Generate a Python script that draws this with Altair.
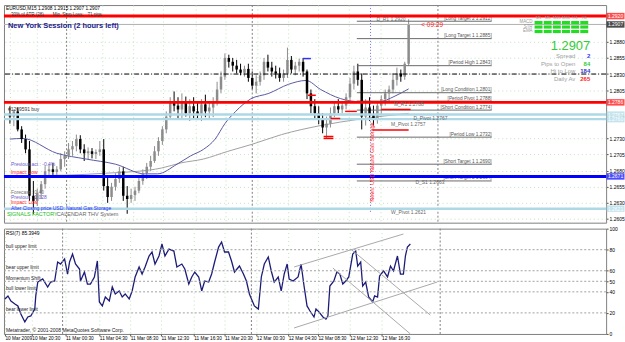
import altair as alt
import pandas as pd

FONT = "Liberation Sans"

# ---------------- data ----------------
# price bars, every second M15 bar (bar index 0 = first bar on the left)
bar_index = list(range(0, 205, 2))
bar_open = [1.2769, 1.2764, 1.2772, 1.2744, 1.2729, 1.2713, 1.2641, 1.2633, 1.2645, 1.2659,
            1.2679, 1.2682, 1.2678, 1.2682, 1.2698, 1.2703, 1.2713, 1.2718, 1.2729, 1.2713,
            1.2707, 1.2710, 1.2706, 1.2709, 1.2713, 1.2656, 1.2639, 1.2655, 1.2667, 1.2679,
            1.2641, 1.2636, 1.2642, 1.2649, 1.2664, 1.2676, 1.2686, 1.2695, 1.2710, 1.2726,
            1.2744, 1.2764, 1.2787, 1.2781, 1.2775, 1.2787, 1.2769, 1.2780, 1.2772, 1.2766,
            1.2783, 1.2772, 1.2778, 1.2787, 1.2806, 1.2826, 1.2855, 1.2849, 1.2843, 1.2837,
            1.2832, 1.2838, 1.2824, 1.2812, 1.2818, 1.2828, 1.2849, 1.2840, 1.2834, 1.2831,
            1.2824, 1.2831, 1.2852, 1.2837, 1.2843, 1.2849, 1.2834, 1.2800, 1.2780, 1.2769,
            1.2760, 1.2747, 1.2753, 1.2769, 1.2780, 1.2775, 1.2781, 1.2794, 1.2815, 1.2834,
            1.2821, 1.2764, 1.2778, 1.2766, 1.2760, 1.2781, 1.2791, 1.2800, 1.2806, 1.2821,
            1.2831, 1.2826, 1.2846]
bar_high = [1.2780, 1.2775, 1.2778, 1.2749, 1.2736, 1.2726, 1.2664, 1.2652, 1.2664, 1.2687,
            1.2690, 1.2692, 1.2687, 1.2707, 1.2710, 1.2723, 1.2726, 1.2736, 1.2735, 1.2721,
            1.2716, 1.2715, 1.2713, 1.2726, 1.2729, 1.2672, 1.2661, 1.2676, 1.2686, 1.2686,
            1.2656, 1.2652, 1.2655, 1.2670, 1.2682, 1.2692, 1.2703, 1.2718, 1.2732, 1.2749,
            1.2772, 1.2794, 1.2803, 1.2794, 1.2800, 1.2795, 1.2791, 1.2794, 1.2787, 1.2791,
            1.2798, 1.2787, 1.2794, 1.2818, 1.2834, 1.2862, 1.2860, 1.2855, 1.2852, 1.2846,
            1.2843, 1.2846, 1.2834, 1.2828, 1.2834, 1.2855, 1.2860, 1.2849, 1.2843, 1.2840,
            1.2837, 1.2871, 1.2858, 1.2849, 1.2854, 1.2855, 1.2837, 1.2806, 1.2791, 1.2780,
            1.2769, 1.2764, 1.2778, 1.2787, 1.2791, 1.2787, 1.2800, 1.2824, 1.2843, 1.2846,
            1.2831, 1.2791, 1.2794, 1.2781, 1.2787, 1.2797, 1.2806, 1.2812, 1.2831, 1.2840,
            1.2837, 1.2849, 1.2915]
bar_low = [1.2753, 1.2749, 1.2741, 1.2723, 1.2707, 1.2633, 1.2613, 1.2625, 1.2636, 1.2652,
           1.2672, 1.2673, 1.2670, 1.2679, 1.2686, 1.2698, 1.2703, 1.2710, 1.2707, 1.2695,
           1.2698, 1.2699, 1.2698, 1.2703, 1.2649, 1.2630, 1.2633, 1.2649, 1.2661, 1.2633,
           1.2613, 1.2630, 1.2633, 1.2645, 1.2658, 1.2667, 1.2679, 1.2692, 1.2703, 1.2720,
           1.2738, 1.2760, 1.2772, 1.2761, 1.2760, 1.2764, 1.2757, 1.2760, 1.2760, 1.2757,
           1.2763, 1.2760, 1.2763, 1.2781, 1.2800, 1.2821, 1.2840, 1.2834, 1.2831, 1.2828,
           1.2826, 1.2818, 1.2806, 1.2800, 1.2812, 1.2821, 1.2834, 1.2826, 1.2823, 1.2818,
           1.2818, 1.2824, 1.2831, 1.2828, 1.2834, 1.2826, 1.2791, 1.2769, 1.2760, 1.2752,
           1.2738, 1.2730, 1.2747, 1.2763, 1.2769, 1.2769, 1.2775, 1.2787, 1.2806, 1.2812,
           1.2744, 1.2750, 1.2757, 1.2750, 1.2753, 1.2766, 1.2781, 1.2787, 1.2800, 1.2812,
           1.2818, 1.2821, 1.2843]
bar_close = [1.2764, 1.2772, 1.2744, 1.2729, 1.2713, 1.2641, 1.2633, 1.2645, 1.2659, 1.2679,
             1.2682, 1.2678, 1.2682, 1.2698, 1.2703, 1.2713, 1.2718, 1.2729, 1.2713, 1.2707,
             1.2710, 1.2706, 1.2709, 1.2713, 1.2656, 1.2639, 1.2655, 1.2667, 1.2679, 1.2641,
             1.2636, 1.2642, 1.2649, 1.2664, 1.2676, 1.2686, 1.2695, 1.2710, 1.2726, 1.2744,
             1.2764, 1.2787, 1.2781, 1.2775, 1.2787, 1.2769, 1.2780, 1.2772, 1.2766, 1.2783,
             1.2772, 1.2778, 1.2787, 1.2806, 1.2826, 1.2855, 1.2849, 1.2843, 1.2837, 1.2832,
             1.2838, 1.2824, 1.2812, 1.2818, 1.2828, 1.2849, 1.2840, 1.2834, 1.2831, 1.2824,
             1.2831, 1.2852, 1.2837, 1.2843, 1.2849, 1.2834, 1.2800, 1.2780, 1.2769, 1.2760,
             1.2747, 1.2753, 1.2769, 1.2780, 1.2775, 1.2781, 1.2794, 1.2815, 1.2834, 1.2821,
             1.2764, 1.2778, 1.2766, 1.2760, 1.2781, 1.2791, 1.2800, 1.2806, 1.2821, 1.2831,
             1.2826, 1.2846, 1.2907]

# moving averages
ma_fast_bar = [0, 6.5, 24, 39, 54, 69, 75.5, 85.5, 92.5, 99, 105, 110, 115.5, 123,
               132.5, 142.5, 151.5, 159, 169, 179, 189, 196.5, 204]
ma_fast = [1.2729, 1.2730, 1.2707, 1.2698, 1.2690, 1.2675, 1.2675, 1.2690, 1.2703, 1.2713,
           1.2729, 1.2753, 1.2772, 1.2791, 1.2800, 1.2814, 1.2820, 1.2806, 1.2792, 1.2787,
           1.2787, 1.2795, 1.2807]
ma_slow_bar = [0, 29, 49, 65.5, 77.5, 87.5, 99, 111.5, 124, 139, 159, 179, 204]
ma_slow = [1.2672, 1.2673, 1.2676, 1.2679, 1.2684, 1.2692, 1.2698, 1.2710, 1.2721,
           1.2736, 1.2750, 1.2760, 1.2769]

# RSI(7)
rsi_bar = [0, 1.5, 3, 5, 6.5, 8, 10, 11.5, 13, 15,
           15.5, 16.5, 19, 21.5, 23, 25, 26.5, 28, 30, 31.5,
           32.5, 34, 35.5, 37.5, 38, 40, 41.5, 43, 45, 46.5,
           47.5, 49, 50.5, 52.5, 54, 55.5, 57.5, 59, 60.5, 62.5,
           64, 65.5, 67.5, 69, 70.5, 72.5, 74, 75.5, 77.5, 79,
           80.5, 82.5, 85, 86.5, 89, 90.5, 92.5, 94, 95.5, 97.5,
           99, 100.5, 102.5, 104, 105.5, 107.5, 109, 110.5, 112.5, 114,
           115.5, 118, 120, 121.5, 123, 125.5, 127.5, 129, 130.5, 132.5,
           134, 135.5, 137.5, 139, 140.5, 142, 143, 145, 147.5, 149,
           150.5, 152, 153.5, 155.5, 156.5, 158, 160, 161.5, 162.5, 163.5,
           165.5, 167, 168.5, 170, 171.5, 173, 175, 176.5, 177.5, 179,
           180, 181.5, 183, 185, 186, 187.5, 188.5, 190.5, 192.5, 194,
           195.5, 197.5, 199, 200.5, 201.5, 202.5, 204]
rsi_value = [33.2, 36.1, 31.3, 28.5, 26.6, 19.0, 11.4, 16.1, 17.1, 23.7,
             36.1, 49.3, 52.2, 44.6, 49.3, 50.3, 68.3, 66.4, 71.2, 56.9,
             68.3, 75.9, 66.4, 61.7, 50.3, 58.8, 47.4, 47.4, 54.1, 69.3,
             30.4, 26.6, 35.1, 31.3, 44.6, 38.0, 40.8, 35.1, 38.0, 33.2,
             40.8, 54.1, 63.6, 56.9, 63.6, 74.0, 77.8, 66.4, 74.0, 85.4,
             74.0, 80.6, 78.7, 63.6, 66.4, 61.7, 47.4, 54.1, 58.8, 54.1,
             40.8, 50.3, 49.3, 56.9, 68.3, 82.5, 87.3, 77.8, 77.8, 69.3,
             58.8, 64.5, 56.9, 50.3, 38.0, 26.6, 23.7, 54.1, 66.4, 73.1,
             59.8, 49.3, 54.1, 40.8, 56.9, 66.4, 52.2, 50.3, 54.1, 66.4,
             45.5, 26.6, 21.8, 16.1, 23.7, 21.0, 16.1, 14.2, 17.1, 45.5,
             50.3, 58.8, 56.9, 47.4, 50.3, 54.1, 75.9, 78.7, 64.5, 68.3,
             45.5, 49.3, 35.1, 30.4, 36.1, 35.1, 55.0, 59.8, 54.1, 64.5,
             59.8, 74.0, 56.9, 56.9, 74.0, 82.5, 85.4]

# full-width horizontal levels
level_price = [1.2920, 1.2907, 1.2786, 1.2767, 1.2760, 1.2671, 1.2621]
level_color = ["#ff0000", "#b0b0b0", "#ff0000", "#add8e6", "#add8e6", "#0000ff", "#add8e6"]
level_box = ["#ff0000", "#000000", "#ff0000", "#add8e6", "#add8e6", "#0000ff", "#add8e6"]
level_width = [3, 1, 3, 2.5, 2.5, 3, 2.5]
dashdot_price = [1.2830]

# period target lines
target_price = [1.2912, 1.2885, 1.2843, 1.2801, 1.2788, 1.2774, 1.2732, 1.2690, 1.2664]
target_name = ["[Long Target 2 1.2912]", "[Long Target 1 1.2885]", "[Period High 1.2843]",
               "[Long Condition 1.2801]", "[Period Pivot 1.2788]", "[Short Condition 1.2774]",
               "[Period Low 1.2732]", "[Short Target 1 1.2690]", "[Short Target 2 1.2664]"]
target_start = [177.5] * 9
target_end = [246.5] * 9

# pivot labels
pivot_name = ["D_R1   1.2920", "M_R1  1.2788", "D_Pivot  1.2767", "M_Pivot  1.2757", "W_Pivot  1.2621"]
pivot_price = [1.2920, 1.2788, 1.2767, 1.2757, 1.2621]
pivot_bar = [187.5, 196.5, 206.5, 195, 195]
ds1_name = ["D_S1  1.2663"]
ds1_price = [1.2663]
ds1_bar = [207.5]

# short red / blue markers
mark_start = [152.5, 171.5, 164, 160.5, 160.5, 190, 185.5]
mark_end = [156.5, 177.5, 169, 165.5, 165.5, 205, 204]
mark_price = [1.2797, 1.2772, 1.2761, 1.2733, 1.2730, 1.2775, 1.2743]
blue_mark_start = [150]
blue_mark_end = [154]
blue_mark_price = [1.2854]

# day separators and news line
day_sep_bar = [29, 124, 219]
news_bar = [184.5]
news_top = [1.2937]
news_bottom = [1.2615]

# RSI levels and trend lines
rsi_level = [80, 60, 50, 40, 20]
rsi_level_name = ["bull upper limit", "bear upper limit", "Momentum Shift", "bull lower limit", "bear lower limit"]
trend_x1 = [145.5, 145.5, 174, 165]
trend_y1 = [63.6, 5.7, 80.6, 62.6]
trend_x2 = [200.5, 217.5, 214, 204]
trend_y2 = [94.9, 49.3, 18.0, 0.0]

# axes
price_ticks = [1.2880, 1.2855, 1.2830, 1.2805, 1.2730, 1.2705, 1.2680, 1.2655, 1.2630, 1.2605]
rsi_ticks = [0, 20, 40, 50, 60, 80, 100]
time_label_bar = [0, 13.5, 30.5, 47.5, 63, 78.5, 95, 110.5, 126.5, 142.5, 157.5, 173.5, 189.5]
time_label_text = ["10 Mar 2009", "10 Mar 20:30", "11 Mar 00:30", "11 Mar 04:30", "11 Mar 08:30",
                   "11 Mar 12:30", "11 Mar 16:30", "11 Mar 20:30", "12 Mar 00:30", "12 Mar 04:30",
                   "12 Mar 08:30", "12 Mar 12:30", "12 Mar 16:30"]

# info panel
tf_names = ["M1", "M5", "M15", "M30", "H1", "H4"]
ind_names = ["MACD", "STR", "EMA"]
stat_names = ["Spread", "Pips to Open", "Hi to Low", "Daily Av"]
stat_values = ["2", "84", "184", "265"]
stat_colors = ["#3333ff", "#33cc33", "#3333cc", "#ff2020"]

# ---------------- layout ----------------
W = 606
H_TOP = 219
H_BOT = 106
SMALL = 5
xs = alt.Scale(domain=[-0.5, 302.5], nice=False, zero=False)
ps = alt.Scale(domain=[1.25992, 1.29371], nice=False, zero=False)
rs = alt.Scale(domain=[0, 100], nice=False, zero=False)
DUMMY = pd.DataFrame({"k": [0]})

x_up_axis = alt.Axis(labels=False, ticks=False, domain=False, grid=True,
                     values=time_label_bar, title=None)
y_up_axis = alt.Axis(orient="right", values=price_ticks, format=".4f", grid=True,
                     title=None, domain=False, tickSize=2, labelPadding=1,
                     labelFontSize=5, labelColor="#000000", labelFont=FONT)

label_expr = ("[" + ",".join("'%s'" % t for t in time_label_text) + "][indexof(["
              + ",".join(str(v) for v in time_label_bar) + "], datum.value)]")
x_lo_axis = alt.Axis(values=time_label_bar, labelExpr=label_expr, labelAlign="left",
                     labelBaseline="top", labelFontSize=4.8, tickSize=2, labelPadding=0,
                     domain=False, grid=True, title=None, labelOverlap=False,
                     labelFlush=False, labelColor="#000000", labelFont=FONT)
y_lo_axis = alt.Axis(orient="right", values=rsi_ticks, format="d", grid=False, title=None,
                     tickSize=2, labelPadding=1, domain=False, labelFontSize=5,
                     labelColor="#000000", labelFont=FONT)


def UX(f):
    return alt.X(f, scale=xs, axis=x_up_axis)


def UY(f):
    return alt.Y(f, scale=ps, axis=y_up_axis)


def LX(f):
    return alt.X(f, scale=xs, axis=x_lo_axis)


def LY(f):
    return alt.Y(f, scale=rs, axis=y_lo_axis)


def txt(text, x, y, size=SMALL, color="#000000", align="left", baseline="middle",
        weight="normal", angle=None):
    kw = dict(text=text, x=x, y=y, fontSize=size, color=color, align=align,
              baseline=baseline, fontWeight=weight, font=FONT)
    if angle is not None:
        kw["angle"] = angle
    return alt.Chart(DUMMY).mark_text(**kw)


def box(x, y, x2, y2, color):
    return alt.Chart(DUMMY).mark_rect(x=x, y=y, x2=x2, y2=y2, color=color)


# ---------------- upper panel ----------------
bars = pd.DataFrame(dict(i=bar_index, o=bar_open, h=bar_high, l=bar_low, c=bar_close))
bars["col"] = ["#8c8c8c" if c >= o else "#000000" for o, c in zip(bar_open, bar_close)]

wicks = alt.Chart(bars).mark_rule(strokeWidth=1).encode(
    x=UX("i:Q"), y=UY("l:Q"), y2="h:Q", color=alt.Color("col:N", scale=None))
bodies = alt.Chart(bars).mark_bar(size=2.5).encode(
    x=UX("i:Q"), y=UY("o:Q"), y2="c:Q", color=alt.Color("col:N", scale=None))

seps_up = alt.Chart(pd.DataFrame({"i": day_sep_bar})).mark_rule(
    color="#808080", strokeDash=[2, 2], strokeWidth=1).encode(x=UX("i:Q"))

news_df = pd.DataFrame({"i": news_bar, "t": news_top, "b": news_bottom})
news_line = alt.Chart(news_df).mark_rule(color="#7070e0", strokeDash=[1, 2]).encode(
    x=UX("i:Q"), y=UY("t:Q"), y2="b:Q")

fast = alt.Chart(pd.DataFrame({"i": ma_fast_bar, "p": ma_fast})).mark_line(
    color="#5a5aa0", strokeWidth=1, interpolate="monotone").encode(x=UX("i:Q"), y=UY("p:Q"))
slow = alt.Chart(pd.DataFrame({"i": ma_slow_bar, "p": ma_slow})).mark_line(
    color="#a0a0a0", strokeWidth=1, interpolate="monotone").encode(x=UX("i:Q"), y=UY("p:Q"))

tgt = pd.DataFrame({"a": target_start, "b": target_end, "p": target_price, "n": target_name})
tgt_lines = alt.Chart(tgt).mark_rule(color="#6a6a6a", strokeWidth=1).encode(
    x=UX("a:Q"), x2="b:Q", y=UY("p:Q"))
tgt_text = alt.Chart(tgt).mark_text(align="right", baseline="bottom", fontSize=4.8,
                                    font=FONT, color="#555555", dy=-0.5).encode(
    x=UX("b:Q"), y=UY("p:Q"), text="n:N")

lev = pd.DataFrame({"p": level_price, "col": level_color, "bc": level_box, "w": level_width})
lev_lines = alt.Chart(lev).mark_rule().encode(
    y=UY("p:Q"), color=alt.Color("col:N", scale=None),
    strokeWidth=alt.StrokeWidth("w:Q", scale=None))
dashdot = alt.Chart(pd.DataFrame({"p": dashdot_price})).mark_rule(
    color="#000000", strokeDash=[5, 2, 1, 2], strokeWidth=1).encode(y=UY("p:Q"))
lev_box = alt.Chart(lev).mark_tick(orient="horizontal", size=18, thickness=6.5).encode(
    y=UY("p:Q"), x=alt.value(615.5), color=alt.Color("bc:N", scale=None))
lev_lab = alt.Chart(lev).mark_text(fontSize=5, font=FONT, color="#ffffff").encode(
    y=UY("p:Q"), x=alt.value(615.5), text=alt.Text("p:Q", format=".4f"))

marks_df = pd.DataFrame({"a": mark_start, "b": mark_end, "p": mark_price})
red_marks = alt.Chart(marks_df).mark_rule(color="#ff0000", strokeWidth=1.5).encode(
    x=UX("a:Q"), x2="b:Q", y=UY("p:Q"))
blue_marks = alt.Chart(pd.DataFrame({"a": blue_mark_start, "b": blue_mark_end,
                                     "p": blue_mark_price})).mark_rule(
    color="#3030ff", strokeWidth=1.5).encode(x=UX("a:Q"), x2="b:Q", y=UY("p:Q"))

piv = pd.DataFrame({"i": pivot_bar, "p": pivot_price, "n": pivot_name})
piv_text = alt.Chart(piv).mark_text(align="left", baseline="top", fontSize=5, font=FONT,
                                    color="#666666", dy=1).encode(
    x=UX("i:Q"), y=UY("p:Q"), text="n:N")
ds1_text = alt.Chart(pd.DataFrame({"i": ds1_bar, "p": ds1_price, "n": ds1_name})).mark_text(
    align="left", baseline="middle", fontSize=5, font=FONT, color="#666666").encode(
    x=UX("i:Q"), y=UY("p:Q"), text="n:N")

up_texts = [
    txt("EURUSD,M15  1.2908 1.2915 1.2907 1.2907", 2, 0.5, size=4.8, baseline="top"),
    txt("30% of ATR (28)", 7, 10.5, size=4.5, color="#333333"),
    txt("Min. Stop Loss:", 49, 10.5, size=4.5, color="#333333"),
    txt("71 pips", 84, 10.5, size=4.5, color="#333333"),
    txt("New York Session (2 hours left)", 4, 21, size=7.5, color="#22228c", weight="bold"),
    txt("#1269591 buy", 4, 105, size=5, color="#333333"),
    txt("< 09:29", 420, 20, size=6.5, color="#ff2020"),
    txt("News: USD Natural Gas Storage", 370, 158, size=5.5, color="#ff2020", align="center", angle=270),
    txt("Previous act : -0.4%", 7, 160, color="#6a5acd"),
    txt("Impact: Low", 7, 168, color="#ff2020"),
    txt("Forecast : 0.40", 7, 188, color="#777777"),
    txt("Previous : 1.028", 7, 193, color="#6a5acd"),
    txt("Impact: Low", 7, 198, color="#ff2020"),
    txt("After Closing price USD: Natural Gas Storage", 7, 204, color="#3030ff"),
    txt("SIGNALS FACTORY", 3, 210, size=5.5, color="#22bb22"),
    txt("CALENDAR THV System", 53, 210, size=5.5, color="#666666"),
    txt("1.2907", 590, 41, size=13, color="#33cc33", align="right"),
]
for k, name in enumerate(tf_names):
    up_texts.append(txt(name, 538 + 9.2 * k, 13.5, size=4, color="#999999", align="center"))
for r, name in enumerate(ind_names):
    up_texts.append(txt(name, 532, 17.5 + 4.5 * r, size=4.5, color="#999999", align="right"))
    for k in range(len(tf_names)):
        x0 = 534 + 9.2 * k
        up_texts.append(box(x0, 16 + 4.5 * r, x0 + 8, 19.2 + 4.5 * r, "#22dd22"))
for r, (name, val, colr) in enumerate(zip(stat_names, stat_values, stat_colors)):
    yy = 51.5 + 7.5 * r
    up_texts.append(txt(name, 575, yy, size=6, color="#a0a0a0", align="right"))
    up_texts.append(txt(val, 590, yy, size=6, color=colr, align="right", weight="bold"))

upper = alt.layer(
    wicks, seps_up, news_line, slow, fast, tgt_lines, tgt_text, bodies,
    lev_lines, dashdot, red_marks, blue_marks, piv_text, ds1_text,
    lev_box, lev_lab, *up_texts
).properties(width=W, height=H_TOP)

# ---------------- lower panel ----------------
rsi_df = pd.DataFrame({"i": rsi_bar, "v": rsi_value})
rsi_line = alt.Chart(rsi_df).mark_line(color="#1c1c78", strokeWidth=1.3).encode(
    x=LX("i:Q"), y=LY("v:Q"))

lvl = pd.DataFrame({"v": rsi_level, "n": rsi_level_name})
lvl_lines = alt.Chart(lvl).mark_rule(color="#a0a0a0", strokeDash=[2, 2], strokeWidth=1).encode(
    y=LY("v:Q"))
lvl_text = alt.Chart(lvl).mark_text(align="left", baseline="bottom", fontSize=4.8, font=FONT,
                                    color="#222222", dy=-0.5).encode(
    x=alt.value(2), y=LY("v:Q"), text="n:N")
seps_lo = alt.Chart(pd.DataFrame({"i": day_sep_bar})).mark_rule(
    color="#808080", strokeDash=[2, 2], strokeWidth=1).encode(x=LX("i:Q"))
trend = alt.Chart(pd.DataFrame({"a": trend_x1, "va": trend_y1, "b": trend_x2,
                                "vb": trend_y2})).mark_rule(
    color="#a8a8a8", strokeWidth=1).encode(x=LX("a:Q"), y=LY("va:Q"), x2="b:Q", y2="vb:Q")

lo_texts = [
    txt("RSI(7) 85.3949", 2, 4),
    txt("Metatrader, \u00a9 2001-2008 MetaQuotes Software Corp.", 2, 105.5,
        baseline="bottom", color="#222222"),
]

lower = alt.layer(
    rsi_line, seps_lo, lvl_lines, trend, lvl_text, *lo_texts
).properties(width=W, height=H_BOT)

chart = alt.vconcat(upper, lower, spacing=2).properties(
    padding={"left": 1, "top": 3, "right": 0, "bottom": 0},
    background="#ffffff",
).configure_view(
    stroke="#7f7f7f", strokeWidth=1, fill="#fbfcfb"
).configure_axis(
    gridColor="#bfe2bf", gridDash=[1, 3], gridWidth=1, labelFont=FONT,
    tickColor="#555555", domainColor="#555555"
)

chart.save("out.html", embed_options={"renderer": "svg", "actions": False})
